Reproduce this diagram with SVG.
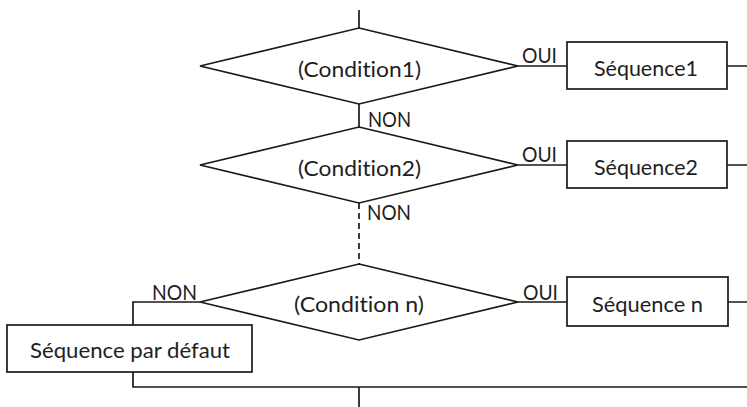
<svg xmlns="http://www.w3.org/2000/svg" width="747" height="407" viewBox="0 0 747 407">
<style>
.s{fill:#fff;stroke:#1a1a1a;stroke-width:1.7}
.c{fill:none;stroke:#1a1a1a;stroke-width:1.7}
.d{fill:none;stroke:#1a1a1a;stroke-width:1.7;stroke-dasharray:6,4}
text{font-family:Lato,"Open Sans","Liberation Sans",sans-serif;font-size:21.5px;fill:#1e1e1e;font-variant-ligatures:none;font-feature-settings:"liga" 0}
</style>
<rect width="747" height="407" fill="#fff"/>
<g id="connectors">
<path class="c" d="M359 10V28"/>
<path class="c" d="M359 104V127"/>
<path class="d" d="M359 203V264"/>
<path class="c" d="M518 66H567M727 66H747"/>
<path class="c" d="M518 165H567M727 165H747"/>
<path class="c" d="M518 302H567M728 302H747"/>
<path class="c" d="M200 302H133V325"/>
<path class="c" d="M133 372V387H747M359 387V407"/>
<text x="368" y="127" textLength="43" lengthAdjust="spacingAndGlyphs">NON</text>
<text x="367" y="220" textLength="44" lengthAdjust="spacingAndGlyphs">NON</text>
<text x="152" y="300" textLength="45" lengthAdjust="spacingAndGlyphs">NON</text>
<text x="522" y="63" textLength="35" lengthAdjust="spacingAndGlyphs">OUI</text>
<text x="522" y="162" textLength="35" lengthAdjust="spacingAndGlyphs">OUI</text>
<text x="523" y="300" textLength="35" lengthAdjust="spacingAndGlyphs">OUI</text>
</g>
<g id="cond1">
<polygon class="s" points="359,28 518,66 359,104 200,66"/>
<text x="298" y="77" textLength="123" lengthAdjust="spacingAndGlyphs">(Condition1)</text>
</g>
<g id="cond2">
<polygon class="s" points="359,127 518,165 359,203 200,165"/>
<text x="298" y="176" textLength="123" lengthAdjust="spacingAndGlyphs">(Condition2)</text>
</g>
<g id="condn">
<polygon class="s" points="359,264 518,302 359,340 200,302"/>
<text x="294" y="312" textLength="130" lengthAdjust="spacingAndGlyphs">(Condition n)</text>
</g>
<g id="seq1">
<rect class="s" x="567" y="42" width="160" height="47"/>
<text x="594" y="76" textLength="104" lengthAdjust="spacingAndGlyphs">Séquence1</text>
</g>
<g id="seq2">
<rect class="s" x="567" y="141" width="160" height="47"/>
<text x="594" y="175" textLength="104" lengthAdjust="spacingAndGlyphs">Séquence2</text>
</g>
<g id="seqn">
<rect class="s" x="567" y="277" width="161" height="49"/>
<text x="592" y="312" textLength="111" lengthAdjust="spacingAndGlyphs">Séquence n</text>
</g>
<g id="default">
<rect class="s" x="7" y="325" width="245" height="47"/>
<text x="30" y="358" textLength="200" lengthAdjust="spacingAndGlyphs">Séquence par défaut</text>
</g>
</svg>
